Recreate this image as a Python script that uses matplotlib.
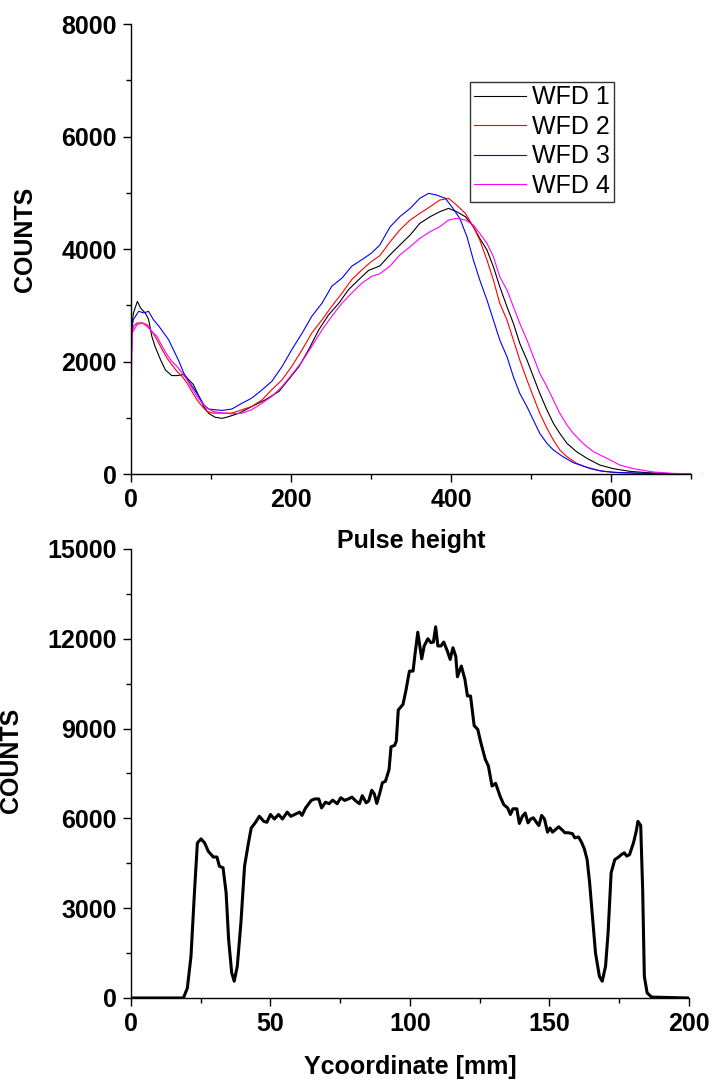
import matplotlib
matplotlib.use('Agg')
import matplotlib.pyplot as plt
from matplotlib.ticker import MultipleLocator

plt.rcParams['font.family'] = ['Liberation Sans', 'DejaVu Sans']

# ── Data: pulse height spectra ─────────────────────────────────────────────
wfd1_x = [0, 1, 3, 8, 12, 18, 22, 26, 30, 37, 43, 51, 58, 66, 72, 78, 85, 91, 97, 105,
          114, 122, 135, 151, 168, 185, 197, 210, 222, 235, 247, 260, 272, 285, 297, 311,
          324, 336, 349, 361, 374, 386, 397, 407, 418, 428, 436, 445, 453, 461, 470, 478,
          486, 495, 503, 511, 520, 528, 536, 545, 557, 570, 586, 603, 624, 645, 674, 700]
wfd1_y = [1500, 2620, 2860, 3070, 2950, 2860, 2750, 2450, 2270, 2030, 1850, 1750, 1750, 1770,
          1680, 1590, 1380, 1200, 1080, 1010, 990, 1020, 1080, 1200, 1320, 1470, 1680, 1910,
          2210, 2570, 2830, 3040, 3280, 3460, 3620, 3700, 3900, 4070, 4250, 4456, 4575, 4664,
          4723, 4664, 4575, 4397, 4190, 3982, 3686, 3330, 2975, 2679, 2323, 2027, 1730, 1434,
          1138, 901, 723, 545, 397, 279, 160, 95, 47, 24, 6, 2]

wfd2_x = [0, 1, 3, 7.5, 14, 20, 26, 32.5, 39, 45, 51, 57.5, 64, 70, 76, 82.5, 89, 95, 103,
          114, 126, 139, 151, 164, 176, 189, 201, 214, 226, 239, 251, 264, 276, 289, 301, 311,
          324, 336, 349, 361, 374, 386, 397, 407, 418, 428, 436, 445, 453, 461, 470, 478, 486,
          495, 503, 511, 520, 528, 536, 545, 557, 574, 590, 611, 645, 700]
wfd2_y = [1800, 2450, 2626, 2686, 2686, 2656, 2537, 2389, 2211, 2062, 1944, 1825, 1736, 1617,
          1469, 1320, 1202, 1113, 1083, 1083, 1083, 1143, 1202, 1320, 1499, 1677, 1914, 2211,
          2507, 2745, 2982, 3220, 3457, 3636, 3784, 3880, 4130, 4338, 4516, 4634, 4753, 4871,
          4901, 4782, 4634, 4397, 4160, 3804, 3449, 3034, 2738, 2382, 2027, 1671, 1375, 1079,
          812, 604, 427, 308, 190, 95, 47, 24, 6, 0]

wfd3_x = [0, 1, 3, 9.6, 16, 22, 28, 35, 41, 47, 53, 60, 66, 72, 78, 85, 91, 97, 105, 114,
          126, 139, 151, 164, 176, 189, 201, 214, 226, 239, 251, 264, 276, 289, 301, 311, 324,
          336, 349, 361, 372, 382, 393, 401, 411, 420, 428, 436, 445, 453, 461, 470, 478, 486,
          495, 503, 511, 520, 528, 540, 553, 570, 586, 603, 645, 700]
wfd3_y = [1500, 2567, 2745, 2893, 2864, 2893, 2745, 2626, 2507, 2389, 2211, 2003, 1795, 1647,
          1528, 1380, 1232, 1155, 1143, 1131, 1155, 1261, 1350, 1499, 1647, 1914, 2211, 2507,
          2804, 3042, 3339, 3487, 3695, 3814, 3932, 4071, 4397, 4575, 4723, 4901, 4990, 4960,
          4901, 4753, 4545, 4219, 3804, 3449, 3093, 2738, 2382, 2086, 1730, 1434, 1197, 960,
          723, 545, 427, 308, 201, 119, 59, 30, 12, 0]

wfd4_x = [0, 1.5, 7.5, 14, 20, 26, 32.5, 39, 45, 51, 57.5, 64, 70, 76, 82.5, 89, 95, 103,
          114, 126, 139, 151, 164, 176, 189, 201, 214, 226, 239, 251, 264, 276, 289, 301, 311,
          324, 336, 349, 361, 374, 386, 397, 407, 418, 428, 436, 445, 453, 461, 470, 478, 486,
          495, 503, 511, 520, 528, 536, 545, 553, 565, 578, 595, 611, 628, 653, 678, 700]
wfd4_y = [1200, 2507, 2656, 2686, 2626, 2537, 2448, 2270, 2122, 2003, 1914, 1795, 1677, 1528,
          1380, 1261, 1172, 1113, 1083, 1071, 1083, 1143, 1261, 1380, 1558, 1766, 2003, 2270,
          2567, 2804, 3042, 3220, 3398, 3517, 3560, 3700, 3893, 4041, 4190, 4308, 4397, 4516,
          4545, 4516, 4427, 4279, 4101, 3864, 3508, 3271, 2975, 2679, 2382, 2086, 1790, 1553,
          1316, 1079, 871, 723, 545, 397, 279, 160, 95, 36, 12, 5]

series_labels = ['WFD 1', 'WFD 2', 'WFD 3', 'WFD 4']
series_colors = ['#000000', '#FF0000', '#0000FF', '#FF00FF']

# ── Data: Y coordinate profile ─────────────────────────────────────────────
ycoord_x = [0, 18.8, 20.2, 21.5, 22.8, 23.8, 25.1, 26.4, 27.7, 29.5, 30.8, 31.7, 33.0, 34.1,
            35.0, 36.1, 37.0, 38.1, 39.4, 40.7, 42.1, 43.1, 44.5, 46.0, 47.6, 48.7, 50.0,
            51.4, 52.9, 54.3, 56.0, 57.3, 58.7, 60.4, 61.3, 62.6, 64.6, 65.9, 67.3, 68.3,
            69.7, 71.0, 72.3, 73.9, 75.2, 76.6, 77.9, 79.2, 80.6, 81.9, 82.9, 84.3, 85.2,
            86.3, 87.2, 88.1, 89.2, 90.1, 91.2, 92.5, 93.2, 94.5, 95.1, 95.8, 97.5, 98.5,
            99.8, 101.1, 101.8, 102.8, 104.2, 105.1, 106.4, 107.5, 108.4, 109.2, 110.0,
            111.1, 112.1, 113.4, 114.4, 115.4, 116.4, 117.0, 118.4, 119.7, 120.6, 121.7,
            123.0, 124.3, 125.4, 127.0, 128.1, 129.4, 130.7, 132.3, 133.6, 135.0, 136.0,
            136.9, 138.3, 139.2, 140.3, 141.3, 142.3, 143.3, 144.2, 145.3, 146.2, 147.2,
            148.2, 149.3, 150.2, 151.1, 152.2, 153.3, 154.6, 155.5, 156.8, 158.2, 159.1,
            160.4, 161.5, 162.5, 163.5, 164.4, 165.5, 166.5, 167.9, 168.9, 170.1, 171.0,
            172.1, 173.4, 174.8, 175.8, 176.8, 177.7, 178.7, 180.1, 181.1, 181.7, 182.7,
            183.4, 184.0, 185.0, 186.6, 200]
ycoord_counts = [0, 0, 330, 1390, 3620, 5180, 5315, 5180, 4900, 4710, 4710, 4400, 4350, 3510,
                 1950, 840, 560, 1060, 2510, 4400, 5180, 5680, 5850, 6070, 5900, 5870, 6130,
                 5980, 6130, 5980, 6210, 6070, 6130, 6210, 6100, 6350, 6600, 6650, 6650, 6350,
                 6540, 6490, 6610, 6490, 6690, 6600, 6650, 6710, 6580, 6490, 6760, 6520, 6580,
                 6940, 6820, 6500, 6850, 7190, 7240, 7630, 8390, 8440, 8580, 9620, 9810, 10250,
                 10920, 10920, 11480, 12220, 11330, 11760, 12000, 11870, 11890, 12400, 11760,
                 11760, 11890, 11590, 11310, 11700, 11420, 10730, 11090, 10640, 10090, 10090,
                 9100, 8970, 8530, 7970, 7750, 7080, 7170, 6740, 6460, 6350, 6130,
                 6320, 6320, 5830, 6070, 6180, 5850, 5980, 6020, 5870, 5760, 6100,
                 5980, 5540, 5680, 5540, 5630, 5720, 5610, 5520, 5520, 5490, 5350,
                 5380, 5200, 4980, 4620, 3840, 2620, 1500, 720, 560, 1060, 2170,
                 4180, 4620, 4710, 4790, 4850, 4740, 4790, 5180, 5570, 5900, 5760,
                 3620, 720, 170, 30, 0]

FS = 18


def style_axes(ax):
    ax.spines['top'].set_visible(False)
    ax.spines['right'].set_visible(False)
    for s in ('left', 'bottom'):
        ax.spines[s].set_linewidth(1.0)
    ax.tick_params(which='major', direction='out', length=6, width=1.0,
                   labelsize=FS, pad=4)
    ax.tick_params(which='minor', direction='out', length=3.5, width=1.0)
    for lab in ax.get_xticklabels() + ax.get_yticklabels():
        lab.set_fontweight('bold')


# ── Figure ─────────────────────────────────────────────────────────────────
fig = plt.figure(figsize=(7.15, 10.83), dpi=100)

# Panel A: pulse height spectra
ax1 = fig.add_axes([0.1832, 0.5623, 0.7832, 0.4155])
for xs, ys, lab, col in zip([wfd1_x, wfd2_x, wfd3_x, wfd4_x],
                            [wfd1_y, wfd2_y, wfd3_y, wfd4_y],
                            series_labels, series_colors):
    ax1.plot(xs, ys, color=col, linewidth=0.8, label=lab)
ax1.set_xlim(0, 700)
ax1.set_ylim(0, 8000)
ax1.xaxis.set_major_locator(MultipleLocator(200))
ax1.xaxis.set_minor_locator(MultipleLocator(100))
ax1.yaxis.set_major_locator(MultipleLocator(2000))
ax1.yaxis.set_minor_locator(MultipleLocator(1000))
style_axes(ax1)
ax1.set_xlabel('Pulse height', fontsize=FS, fontweight='bold')
ax1.set_ylabel('COUNTS', fontsize=FS, fontweight='bold')
ax1.xaxis.set_label_coords(0.5, -0.122)
ax1.yaxis.set_label_coords(-0.168, 0.522)
leg = ax1.legend(loc='upper left', bbox_to_anchor=(0.605, 0.872), fontsize=FS,
                 frameon=True, fancybox=False, handlelength=2.1, handletextpad=0.25,
                 labelspacing=0.22, borderpad=0.15, borderaxespad=0)
leg.get_frame().set_edgecolor('black')
leg.get_frame().set_linewidth(1.0)

# Panel B: Y coordinate profile
ax2 = fig.add_axes([0.1832, 0.0785, 0.7804, 0.4146])
ax2.patch.set_visible(False)
ax2.plot(ycoord_x, ycoord_counts, color='black', linewidth=2.2)
ax2.set_xlim(0, 200)
ax2.set_ylim(0, 15000)
ax2.xaxis.set_major_locator(MultipleLocator(50))
ax2.xaxis.set_minor_locator(MultipleLocator(25))
ax2.yaxis.set_major_locator(MultipleLocator(3000))
ax2.yaxis.set_minor_locator(MultipleLocator(1500))
style_axes(ax2)
ax2.set_xlabel('Ycoordinate [mm]', fontsize=FS, fontweight='bold')
ax2.set_ylabel('COUNTS', fontsize=FS, fontweight='bold')
ax2.xaxis.set_label_coords(0.5, -0.126)
ax2.yaxis.set_label_coords(-0.193, 0.53)

plt.savefig('out.png', dpi=100)
plt.close()
